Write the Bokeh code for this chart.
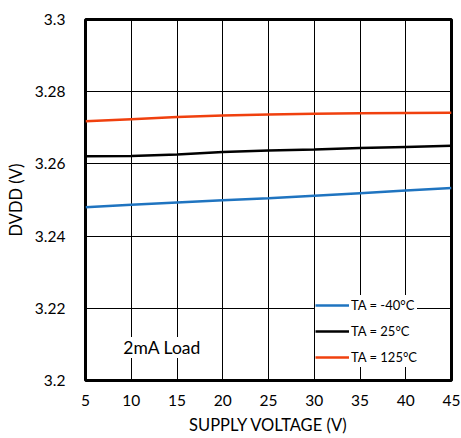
from bokeh.plotting import figure
from bokeh.models import Range1d, FixedTicker, Legend, LegendItem, Label
from bokeh.embed import file_html
from bokeh.resources import INLINE

# Supply voltage sweep (V) and DVDD output (V) at three ambient temperatures
supply_v = [5, 10, 15, 20, 25, 30, 35, 40, 45]
dvdd_m40 = [3.2480, 3.2487, 3.2493, 3.2499, 3.2505, 3.2512, 3.2519, 3.2526, 3.2533]
dvdd_25 = [3.2621, 3.2622, 3.2626, 3.2633, 3.2637, 3.2640, 3.2644, 3.2647, 3.2650]
dvdd_125 = [3.2718, 3.2724, 3.2730, 3.2734, 3.2737, 3.2739, 3.2740, 3.2741, 3.2742]

series_labels = ["TA = -40°C", "TA = 25°C", "TA = 125°C"]
series_colors = ["#1f74c0", "#000000", "#f0400e"]

x_ticks = [5, 10, 15, 20, 25, 30, 35, 40, 45]
y_ticks = [3.2, 3.22, 3.24, 3.26, 3.28, 3.3]
y_tick_labels = ["3.2", "3.22", "3.24", "3.26", "3.28", "3.3"]

FONT = "Lato"

p = figure(width=461, height=438, output_backend="svg", toolbar_location=None,
           x_range=Range1d(5, 45), y_range=Range1d(3.2, 3.3),
           min_border_left=85, min_border_right=10, min_border_top=19, min_border_bottom=58)

p.outline_line_color = "black"
p.outline_line_width = 3
p.background_fill_color = "white"
p.border_fill_color = "white"

for ax in (p.xaxis[0], p.yaxis[0]):
    ax.axis_line_color = None
    ax.major_tick_line_color = None
    ax.minor_tick_line_color = None
    ax.major_label_text_font = FONT
    ax.major_label_text_font_size = "15.5px"
    ax.major_label_text_color = "black"
    ax.axis_label_text_font = FONT
    ax.axis_label_text_font_size = "16.5px"
    ax.axis_label_text_font_style = "normal"
    ax.axis_label_text_color = "black"

p.xaxis.ticker = FixedTicker(ticks=x_ticks)
p.yaxis.ticker = FixedTicker(ticks=y_ticks)
p.yaxis.major_label_overrides = {t: s for t, s in zip(y_ticks, y_tick_labels)}
p.xaxis.major_label_standoff = 8
p.yaxis.major_label_standoff = 14
p.xaxis.axis_label = "SUPPLY VOLTAGE (V)"
p.yaxis.axis_label = "DVDD (V)"
p.xaxis.axis_label_standoff = 6
p.yaxis.axis_label_standoff = 6

p.xgrid.ticker = FixedTicker(ticks=x_ticks)
p.ygrid.ticker = FixedTicker(ticks=y_ticks)
for g in (p.xgrid[0], p.ygrid[0]):
    g.grid_line_color = "black"
    g.grid_line_width = 1
    g.grid_line_alpha = 1

renderers = []
for ys, c in zip([dvdd_m40, dvdd_25, dvdd_125], series_colors):
    r = p.line(supply_v, ys, line_color=c, line_width=2.5)
    renderers.append(r)

legend = Legend(items=[LegendItem(label=l, renderers=[r]) for l, r in zip(series_labels, renderers)],
                location=(230, 13), orientation="vertical",
                background_fill_color="white", background_fill_alpha=1,
                border_line_color=None, glyph_width=34, glyph_height=20,
                label_standoff=2, spacing=6, padding=8, margin=0,
                label_text_font=FONT, label_text_font_size="13px",
                label_text_color="black")
p.add_layout(legend, "center")

load_label = Label(x=10, y=3.2062, text="2mA Load", text_font=FONT, text_font_size="17.5px",
                   text_color="black", text_align="left", background_fill_color="white",
                   background_fill_alpha=1, x_offset=-8)
p.add_layout(load_label)

open("out.html", "w").write(file_html(p, INLINE))
